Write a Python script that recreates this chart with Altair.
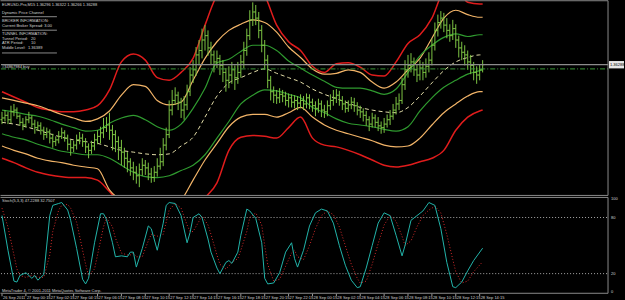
import json
import altair as alt
import pandas as pd

# ---------------- data ----------------
time_tick_idx = [0, 8, 16, 24, 32, 40, 48, 56, 64, 72, 80, 88, 96, 104, 112, 120, 128, 136, 144, 152, 160]
time_labels = ["26 Sep 2011", "27 Sep 00:15", "27 Sep 02:15", "27 Sep 04:15", "27 Sep 06:15", "27 Sep 08:15",
               "27 Sep 10:15", "27 Sep 12:15", "27 Sep 14:15", "27 Sep 16:15", "27 Sep 18:15", "27 Sep 20:15",
               "27 Sep 22:15", "28 Sep 00:15", "28 Sep 02:15", "28 Sep 04:15", "28 Sep 06:15", "28 Sep 08:15",
               "28 Sep 10:15", "28 Sep 12:15", "28 Sep 14:15"]
price_ticks = [1.3691, 1.3677, 1.3663, 1.3649, 1.3635, 1.3621, 1.3607, 1.3593, 1.3579, 1.3565,
               1.3551, 1.3537, 1.3523, 1.3509, 1.3495, 1.3481]

bar_idx = list(range(162))
bar_open = [1.3566,
    1.3568,1.3571,1.3566,1.3575,1.3577,1.3570,1.3563,1.3560,1.3566,1.3568,1.3561,1.3557,1.3559,
    1.3554,1.3549,1.3552,1.3545,1.3541,1.3543,1.3547,1.3551,1.3545,1.3538,1.3534,1.3537,1.3543,1.3545,1.3541,1.3535,1.3531,1.3536,1.3543,1.3547,
    1.3551,1.3557,1.3560,1.3554,1.3549,1.3541,1.3534,1.3529,
    1.3522,1.3518,1.3511,1.3506,1.3502,1.3509,1.3514,1.3511,1.3504,1.3500,1.3506,1.3513,1.3518,
    1.3537,1.3549,1.3577,1.3588,1.3594,1.3586,1.3577,
    1.3583,1.3598,1.3617,1.3623,1.3640,1.3645,
    1.3657,1.3662,1.3648,1.3640,1.3632,1.3636,
    1.3628,1.3620,1.3611,1.3617,1.3623,1.3614,1.3620,1.3632,
    1.3645,1.3662,1.3680,1.3689,1.3682,1.3668,1.3651,1.3634,
    1.3611,1.3598,1.3594,1.3591,1.3595,1.3593,1.3588,1.3591,1.3586,1.3588,1.3585,
    1.3588,1.3584,1.3591,1.3586,1.3582,1.3579,1.3584,1.3577,1.3575,1.3582,1.3588,
    1.3591,1.3594,1.3588,1.3584,1.3579,1.3583,1.3586,1.3582,1.3577,1.3575,
    1.3571,1.3566,1.3561,1.3568,1.3563,1.3559,1.3557,1.3561,1.3566,1.3570,
    1.3577,1.3584,1.3588,1.3606,1.3623,
    1.3628,1.3632,1.3623,1.3617,1.3625,1.3620,1.3627,1.3634,
    1.3651,1.3668,1.3677,1.3682,1.3674,
    1.3668,1.3662,1.3670,1.3657,1.3648,1.3643,
    1.3640,1.3632,1.3628,
    1.3620,1.3617,1.3623]
bar_high = [
    1.3575,1.3577,1.3575,1.3582,1.3584,1.3580,1.3572,1.3568,1.3570,1.3575,1.3571,1.3566,1.3564,
    1.3563,1.3558,1.3557,1.3555,1.3550,1.3547,1.3553,1.3557,1.3554,1.3549,1.3543,1.3542,1.3549,1.3552,1.3550,1.3545,1.3539,1.3542,1.3550,1.3554,
    1.3558,1.3568,1.3569,1.3574,1.3560,1.3554,1.3547,1.3543,
    1.3534,1.3529,1.3522,1.3518,1.3513,1.3516,1.3522,1.3520,1.3517,1.3511,1.3513,1.3522,1.3534,
    1.3545,1.3557,1.3588,1.3600,1.3603,1.3598,1.3591,
    1.3593,1.3606,1.3626,1.3634,1.3649,1.3657,
    1.3670,1.3674,1.3668,1.3655,1.3645,1.3645,
    1.3640,1.3634,1.3625,1.3627,1.3632,1.3628,1.3632,1.3640,
    1.3655,1.3670,1.3691,1.3700,1.3697,1.3689,1.3674,1.3657,
    1.3640,1.3616,1.3604,1.3600,1.3602,1.3600,1.3598,1.3596,1.3595,1.3594,1.3593,
    1.3595,1.3593,1.3596,1.3595,1.3590,1.3587,1.3590,1.3588,1.3583,1.3588,1.3595,
    1.3600,1.3601,1.3599,1.3593,1.3588,1.3588,1.3592,1.3591,1.3586,1.3582,
    1.3579,1.3576,1.3570,1.3574,1.3572,1.3569,1.3564,1.3568,1.3572,1.3577,
    1.3584,1.3592,1.3596,1.3614,1.3634,
    1.3640,1.3642,1.3637,1.3629,1.3634,1.3632,1.3636,1.3643,
    1.3659,1.3677,1.3686,1.3690,1.3688,
    1.3682,1.3675,1.3680,1.3675,1.3662,1.3655,
    1.3651,1.3645,1.3640,
    1.3632,1.3627,1.3629,1.3634]
bar_low = [
    1.3561,1.3564,1.3561,1.3562,1.3570,1.3567,1.3559,1.3554,1.3557,1.3562,1.3557,1.3550,1.3553,
    1.3549,1.3543,1.3545,1.3539,1.3534,1.3536,1.3539,1.3544,1.3541,1.3531,1.3525,1.3529,1.3532,1.3538,1.3535,1.3528,1.3522,1.3527,1.3531,1.3538,
    1.3539,1.3545,1.3552,1.3543,1.3531,1.3529,1.3520,1.3514,
    1.3511,1.3506,1.3502,1.3497,1.3493,1.3489,1.3502,1.3503,1.3497,1.3494,1.3495,1.3501,1.3509,
    1.3513,1.3531,1.3545,1.3571,1.3583,1.3577,1.3568,
    1.3566,1.3577,1.3593,1.3608,1.3616,1.3628,
    1.3636,1.3645,1.3639,1.3629,1.3620,1.3625,
    1.3617,1.3609,1.3598,1.3602,1.3607,1.3600,1.3607,1.3614,
    1.3625,1.3639,1.3657,1.3673,1.3674,1.3659,1.3643,1.3623,
    1.3602,1.3588,1.3585,1.3584,1.3585,1.3586,1.3582,1.3580,1.3580,1.3579,1.3577,
    1.3579,1.3577,1.3579,1.3578,1.3575,1.3570,1.3574,1.3569,1.3568,1.3570,1.3577,
    1.3582,1.3585,1.3582,1.3577,1.3574,1.3575,1.3578,1.3575,1.3571,1.3568,
    1.3564,1.3559,1.3553,1.3557,1.3557,1.3553,1.3550,1.3551,1.3557,1.3560,
    1.3566,1.3572,1.3577,1.3584,1.3600,
    1.3614,1.3620,1.3616,1.3609,1.3611,1.3611,1.3614,1.3620,
    1.3628,1.3645,1.3661,1.3670,1.3666,
    1.3659,1.3655,1.3657,1.3648,1.3637,1.3634,
    1.3628,1.3623,1.3618,
    1.3611,1.3607,1.3611,1.3620]
bar_close = [
    1.3568,1.3571,1.3566,1.3575,1.3577,1.3570,1.3563,1.3560,1.3566,1.3568,1.3561,1.3557,1.3559,
    1.3554,1.3549,1.3552,1.3545,1.3541,1.3543,1.3547,1.3551,1.3545,1.3538,1.3534,1.3537,1.3543,1.3545,1.3541,1.3535,1.3531,1.3536,1.3543,1.3547,
    1.3551,1.3557,1.3560,1.3554,1.3549,1.3541,1.3534,1.3529,
    1.3522,1.3518,1.3511,1.3506,1.3502,1.3509,1.3514,1.3511,1.3504,1.3500,1.3506,1.3513,1.3518,
    1.3537,1.3549,1.3577,1.3588,1.3594,1.3586,1.3577,
    1.3583,1.3598,1.3617,1.3623,1.3640,1.3645,
    1.3657,1.3662,1.3648,1.3640,1.3632,1.3636,
    1.3628,1.3620,1.3611,1.3617,1.3623,1.3614,1.3620,1.3632,
    1.3645,1.3662,1.3680,1.3689,1.3682,1.3668,1.3651,1.3634,
    1.3611,1.3598,1.3594,1.3591,1.3595,1.3593,1.3588,1.3591,1.3586,1.3588,1.3585,
    1.3588,1.3584,1.3591,1.3586,1.3582,1.3579,1.3584,1.3577,1.3575,1.3582,1.3588,
    1.3591,1.3594,1.3588,1.3584,1.3579,1.3583,1.3586,1.3582,1.3577,1.3575,
    1.3571,1.3566,1.3561,1.3568,1.3563,1.3559,1.3557,1.3561,1.3566,1.3570,
    1.3577,1.3584,1.3588,1.3606,1.3623,
    1.3628,1.3632,1.3623,1.3617,1.3625,1.3620,1.3627,1.3634,
    1.3651,1.3668,1.3677,1.3682,1.3674,
    1.3668,1.3662,1.3670,1.3657,1.3648,1.3643,
    1.3640,1.3632,1.3628,
    1.3620,1.3617,1.3623,1.36288]

band_idx = [0,4,8,12,16,20,24,28,32,36,40,44,48,52,56,60,64,68,72,76,80,84,88,92,96,100,
            104,108,112,116,120,124,128,132,136,140,144,148,152,156,160,161]
middle = [1.3563,1.3561,1.3558,1.3554,1.3550,1.3546,1.3543,1.3541,1.3539,1.3535,1.3531,1.3529,1.3527,1.3526,
          1.3527,1.3536,1.3546,1.3569,1.3593,1.3608,1.3614,1.3620,1.3624,1.3619,1.3614,1.3609,1.3601,1.3595,
          1.3590,1.3585,1.3580,1.3577,1.3575,1.3574,1.3580,1.3593,1.3608,1.3622,1.3632,1.3637,1.3640,1.3640]
green_up = [1.3577,1.3575,1.3572,1.3570,1.3566,1.3561,1.3557,1.3553,1.3554,1.3562,1.3568,1.3571,1.3566,1.3558,
            1.3554,1.3561,1.3579,1.3602,1.3631,1.3635,1.3644,1.3651,1.3651,1.3645,1.3633,1.3625,1.3617,1.3610,
            1.3603,1.3602,1.3602,1.3599,1.3595,1.3601,1.3620,1.3639,1.3651,1.3660,1.3664,1.3661,1.3663,1.3663]
green_lo = [1.3550,1.3546,1.3543,1.3538,1.3534,1.3530,1.3528,1.3526,1.3526,1.3522,1.3514,1.3506,1.3501,1.3500,
            1.3502,1.3508,1.3514,1.3526,1.3545,1.3564,1.3584,1.3594,1.3600,1.3599,1.3595,1.3591,1.3580,1.3574,
            1.3567,1.3562,1.3560,1.3558,1.3555,1.3553,1.3558,1.3576,1.3591,1.3603,1.3611,1.3618,1.3622,1.3623]
orange_up = [1.3591,1.3588,1.3585,1.3582,1.3577,1.3572,1.3568,1.3564,1.3567,1.3576,1.3594,1.3606,1.3604,1.3588,
             1.3583,1.3586,1.3611,1.3636,1.3655,1.3668,1.3675,1.3680,1.3677,1.3666,1.3649,1.3637,1.3624,1.3618,
             1.3619,1.3623,1.3620,1.3609,1.3602,1.3609,1.3623,1.3636,1.3659,1.3682,1.3691,1.3686,1.3683,1.3683]
orange_lo = [1.3536,1.3531,1.3527,1.3522,1.3519,1.3517,1.3514,1.3512,1.3510,1.3486,1.3474,1.3469,1.3465,1.3463,
             1.3465,1.3474,1.3497,1.3520,1.3539,1.3558,1.3569,1.3572,1.3572,1.3569,1.3574,1.3580,1.3569,1.3560,
             1.3554,1.3550,1.3546,1.3542,1.3537,1.3535,1.3536,1.3545,1.3560,1.3574,1.3584,1.3593,1.3598,1.3598]
red_up = [1.3598,1.3592,1.3586,1.3580,1.3577,1.3575,1.3575,1.3577,1.3582,1.3600,1.3632,1.3641,1.3634,1.3614,
          1.3611,1.3620,1.3636,1.3674,1.3708,1.3720,1.3725,1.3725,1.3708,1.3674,1.3655,1.3645,1.3627,1.3620,
          1.3630,1.3631,1.3626,1.3617,1.3616,1.3632,1.3653,1.3663,1.3682,1.3712,1.3716,1.3700,1.3698,1.3698]
red_lo = [1.3522,1.3517,1.3511,1.3506,1.3503,1.3501,1.3500,1.3500,1.3497,1.3484,1.3469,1.3461,1.3455,1.3452,
          1.3449,1.3454,1.3463,1.3477,1.3494,1.3531,1.3546,1.3548,1.3547,1.3545,1.3557,1.3569,1.3545,1.3537,
          1.3535,1.3531,1.3526,1.3520,1.3514,1.3512,1.3514,1.3518,1.3522,1.3531,1.3554,1.3569,1.3576,1.3577]

bid_price = [1.36288]
order_price = [1.3624]

stoch_idx = [0,2,4,5,6,8,10,11,12,13,14,16,17,19,20,22,23,25,27,28,29,31,33,34,35,37,38,40,42,43,
             44,45,47,49,50,52,54,55,56,58,60,62,63,64,66,67,69,70,72,73,75,76,77,79,80,82,83,85,87,88,
             89,91,93,95,97,98,99,101,103,105,107,109,111,113,115,117,119,120,122,124,126,128,130,132,134,135,137,139,141,143,
             145,147,149,151,152,154,156,158,161]
stoch_main = [82,45,12,11,18,21,15,18,13,16,19,82,93,95,96,88,77,47,14,9,15,53,84,84,78,53,38,39,38,43,
              43,27,47,71,68,45,74,93,96,95,82,53,64,80,84,80,57,43,26,20,32,34,31,43,61,89,87,79,53,15,
              9,10,21,43,53,36,27,45,71,85,89,87,74,50,29,13,5,6,26,50,74,85,82,61,39,50,77,82,87,96,
              93,68,32,6,5,11,23,34,47.2288]
stoch_signal = [90,70,40,25,18,16,18,17,16,16,16,40,65,88,93,94,90,75,45,30,18,25,55,70,80,70,58,42,40,40,
                42,38,38,55,62,60,62,75,88,95,90,72,65,65,76,82,72,62,40,30,25,28,32,36,45,65,80,85,72,50,
                30,12,14,28,42,45,38,35,50,68,82,87,83,70,50,30,15,10,12,30,52,72,82,76,60,50,55,70,82,88,
                92,85,62,35,22,10,12,22,32.7507]
stoch_levels = [80, 20]
stoch_label_vals = [100, 80, 20, 0]
stoch_label_txt = ["100", "80", "20", "0"]

header_text = "EURUSD-Pro,M15  1.36296 1.36322 1.36266 1.36288"
info_lines = ["Dynamic Price Channel", "BROKER INFORMATION:", "Current Broker Spread: 3.00",
              "TUNNEL INFORMATION:", "Tunnel Period:", "ATR Period:", "Middle Level:"]
info_values = ["20", "10", "1.36389"]
order_label = "#34867984 buy"
stoch_title = "Stoch(5,3,3) 47.2288 32.7507"
copyright_text = "MetaTrader 4, \u00a9 2001-2011 MetaQuotes Software Corp."

# ---------------- layout / style ----------------
W = 609
H_MAIN = 196
H_STOCH = 104          # indicator area (97 px) + room for the time labels
H_IND = 97
FONT = "Liberation Sans"
TXT = "#d2d2d2"
BORDER = "#8a8a8a"
FS = 4

bars = pd.DataFrame({"i": bar_idx, "open": bar_open, "high": bar_high, "low": bar_low, "close": bar_close})
bands = pd.DataFrame({"i": band_idx, "middle": middle, "green_up": green_up, "green_lo": green_lo,
                      "orange_up": orange_up, "orange_lo": orange_lo, "red_up": red_up, "red_lo": red_lo})
stoch = pd.DataFrame({"i": stoch_idx, "main": stoch_main, "signal": stoch_signal})
ticks = pd.DataFrame({"i": time_tick_idx, "t": time_labels})

xs = alt.Scale(domain=[-0.67, 203.0], nice=False, zero=False)
ys = alt.Scale(domain=[1.34790, 1.37024], nice=False, zero=False)
ss = alt.Scale(domain=[-9.0, 102.0], nice=False, zero=False)
XN = alt.X("i:Q", scale=xs, axis=None)
ONE = pd.DataFrame({"t": [0]})


def txt(s, x, y, color=TXT, align="left"):
    return alt.Chart(pd.DataFrame({"t": [s]})).mark_text(
        align=align, baseline="middle", font=FONT, fontSize=FS, color=color
    ).encode(x=alt.value(x), y=alt.value(y), text="t:N")


def seg(x1, x2, y1, y2, color=BORDER, width=1):
    return alt.Chart(ONE).mark_rule(color=color, strokeWidth=width).encode(
        x=alt.value(x1), x2=alt.value(x2), y=alt.value(y1), y2=alt.value(y2))


def band(field, color, width, dash=None):
    kw = dict(color=color, strokeWidth=width, clip=True, interpolate="monotone")
    if dash:
        kw["strokeDash"] = dash
    return alt.Chart(bands).mark_line(**kw).encode(x=XN, y=alt.Y(f"{field}:Q", scale=ys, axis=None))


price_axis = alt.Axis(orient="right", values=price_ticks, title=None, grid=False, domain=False,
                      tickSize=2, tickColor="#9a9a9a", labelPadding=1, labelFont=FONT, labelFontSize=FS,
                      labelColor=TXT, labelExpr="slice(format(datum.value, '.5f'), 0, 6)",
                      labelOverlap=False, labelFlush=False)

bar_color = "#7cc443"
bar_rule = alt.Chart(bars).mark_rule(color=bar_color, strokeWidth=1, clip=True).encode(
    x=XN, y=alt.Y("high:Q", scale=ys, axis=price_axis), y2="low:Q")
bar_open_t = alt.Chart(bars).transform_calculate(xo="datum.i - 0.55").mark_rule(
    color=bar_color, strokeWidth=1, clip=True).encode(
    x=alt.X("xo:Q", scale=xs, axis=None), x2="i:Q", y=alt.Y("open:Q", scale=ys, axis=None))
bar_close_t = alt.Chart(bars).transform_calculate(xc="datum.i + 0.55").mark_rule(
    color=bar_color, strokeWidth=1, clip=True).encode(
    x=XN, x2="xc:Q", y=alt.Y("close:Q", scale=ys, axis=None))

bid_line = alt.Chart(pd.DataFrame({"p": bid_price})).mark_rule(color="#8c8c8c", strokeWidth=1.2).encode(
    x=alt.value(1), x2=alt.value(W), y=alt.Y("p:Q", scale=ys, axis=None))
order_line = alt.Chart(pd.DataFrame({"p": order_price})).mark_rule(
    color="#3a9a3a", strokeWidth=1, strokeDash=[5, 2, 1, 2]).encode(
    x=alt.value(1), x2=alt.value(W), y=alt.Y("p:Q", scale=ys, axis=None))
bid_box = alt.Chart(pd.DataFrame({"p": bid_price})).transform_calculate(
    lo="datum.p - 0.00042", hi="datum.p + 0.00042").mark_rect(color="#e6e6e6").encode(
    x=alt.value(W + 1), x2=alt.value(W + 16), y=alt.Y("lo:Q", scale=ys, axis=None), y2="hi:Q")
bid_txt = alt.Chart(pd.DataFrame({"p": bid_price, "t": [f"{bid_price[0]:.5f}"]})).mark_text(
    align="left", baseline="middle", font=FONT, fontSize=FS, color="#000000").encode(
    x=alt.value(W + 2), y=alt.Y("p:Q", scale=ys, axis=None), text="t:N")

main_layers = [
    band("red_up", "#e01c1c", 1.5), band("red_lo", "#e01c1c", 1.5),
    band("orange_up", "#f2b468", 1.2), band("orange_lo", "#f2b468", 1.2),
    band("green_up", "#2f9a2f", 1.2), band("green_lo", "#2f9a2f", 1.2),
    band("middle", "#e2dca8", 1, [4, 3]),
    bar_rule, bar_open_t, bar_close_t,
    bid_line, order_line,
    seg(0.5, W, 0.5, 0.5), seg(0.5, W, H_MAIN - 0.5, H_MAIN - 0.5), seg(W, W, 0.5, H_MAIN - 0.5),
    bid_box, bid_txt,
    txt(header_text, 2, 4.5),
    txt(info_lines[0], 2, 12.5), seg(2, 57, 16.5, 16.5),
    txt(info_lines[1], 2, 20.5), txt(info_lines[2], 2, 25.5), seg(2, 57, 30, 30),
    txt(info_lines[3], 2, 34), txt(info_lines[4], 2, 38.7), txt(info_values[0], 31, 38.7),
    txt(info_lines[5], 2, 43.2), txt(info_values[1], 31, 43.2),
    txt(info_lines[6], 2, 47.6), txt(info_values[2], 28, 47.6), seg(2, 57, 52.8, 52.8),
    txt(order_label, 2, 66.5),
]
main = alt.layer(*main_layers).properties(width=W, height=H_MAIN)

levels = alt.Chart(pd.DataFrame({"v": stoch_levels})).mark_rule(
    color="#a8a8a8", strokeWidth=1, strokeDash=[1, 2]).encode(
    x=alt.value(1), x2=alt.value(W), y=alt.Y("v:Q", scale=ss, axis=None))
main_line = alt.Chart(stoch).mark_line(color="#22b4aa", strokeWidth=1, clip=True).encode(
    x=XN, y=alt.Y("main:Q", scale=ss, axis=None))
sig_line = alt.Chart(stoch).mark_line(color="#d42a2a", strokeWidth=1, strokeDash=[1, 2], clip=True).encode(
    x=XN, y=alt.Y("signal:Q", scale=ss, axis=None))
lvl_labels = alt.Chart(pd.DataFrame({"v": stoch_label_vals, "t": stoch_label_txt})).mark_text(
    align="left", baseline="middle", font=FONT, fontSize=FS, color=TXT).encode(
    x=alt.value(W + 3), y=alt.Y("v:Q", scale=ss, axis=None), text="t:N")
time_tick_marks = alt.Chart(ticks).mark_rule(color="#9a9a9a", strokeWidth=1).encode(
    x=XN, y=alt.value(H_IND), y2=alt.value(H_IND + 2.5))
time_tick_text = alt.Chart(ticks).mark_text(
    align="left", baseline="middle", dx=1, font=FONT, fontSize=FS, color=TXT).encode(
    x=XN, y=alt.value(H_IND + 4.6), text="t:N")

stoch_panel = alt.layer(
    levels, sig_line, main_line, lvl_labels,
    seg(0.5, W, 0.5, 0.5), seg(0.5, W, H_IND - 0.5, H_IND - 0.5), seg(W, W, 0.5, H_IND - 0.5),
    time_tick_marks, time_tick_text,
    txt(stoch_title, 2, 4), txt(copyright_text, 2, 94),
).properties(width=W, height=H_STOCH)

chart = alt.vconcat(main, stoch_panel, spacing=0).properties(
    padding=0, background="#000000"
).configure_view(stroke=None, fill="#000000")

chart.save("out.html", embed_options={"renderer": "svg", "actions": False})
